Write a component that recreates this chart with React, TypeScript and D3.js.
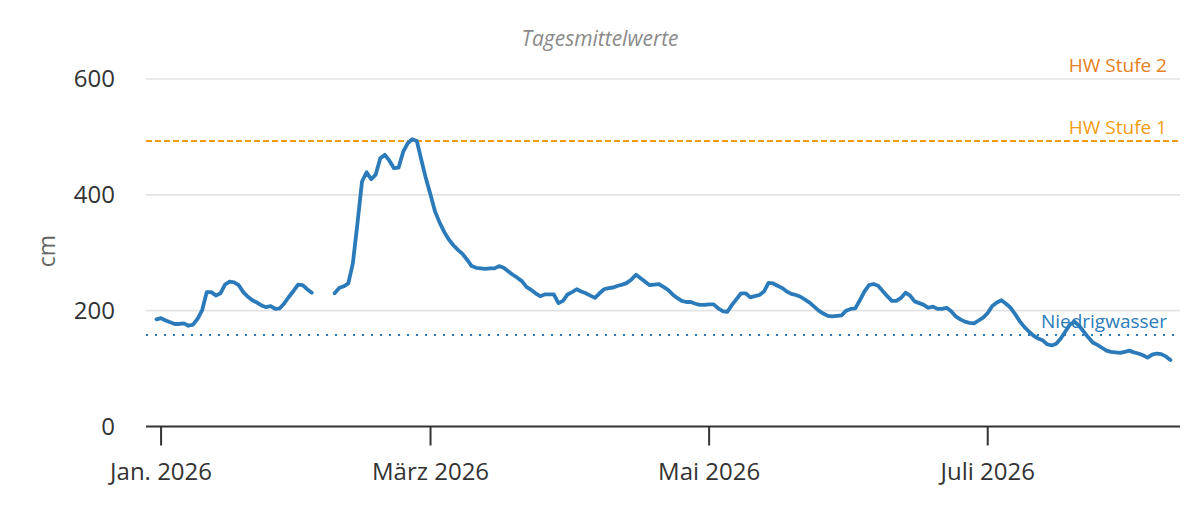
import * as d3 from "d3";

// Tagesmittelwerte Pegel (cm), Tage ab 1. Jan. 2026 (UTC), null = Datenlücke
const tage = [
  -1, 0, 1, 2, 3, 4, 5, 6, 7, 8, 9, 10, 11, 12, 13, 14, 15, 16, 17, 18, 19, 20,
  21, 22, 23, 24, 25, 26, 27, 28, 29, 30, 31, 32, 33, 34, 35, 36, 37, 38, 39, 40,
  41, 42, 43, 44, 45, 46, 47, 48, 49, 50, 51, 52, 53, 54, 55, 56, 57, 58, 59, 60,
  61, 62, 63, 64, 65, 66, 67, 68, 69, 70, 71, 72, 73, 74, 75, 76, 77, 78, 79, 80,
  81, 82, 83, 84, 85, 86, 87, 88, 89, 90, 91, 92, 93, 94, 95, 96, 97, 98, 99, 100,
  101, 102, 103, 104, 105, 106, 107, 108, 109, 110, 111, 112, 113, 114, 115, 116,
  117, 118, 119, 120, 121, 122, 123, 124, 125, 126, 127, 128, 129, 130, 131, 132,
  133, 134, 135, 136, 137, 138, 139, 140, 141, 142, 143, 144, 145, 146, 147, 148,
  149, 150, 151, 152, 153, 154, 155, 156, 157, 158, 159, 160, 161, 162, 163, 164,
  165, 166, 167, 168, 169, 170, 171, 172, 173, 174, 175, 176, 177, 178, 179, 180,
  181, 182, 183, 184, 185, 186, 187, 188, 189, 190, 191, 192, 193, 194, 195, 196,
  197, 198, 199, 200, 201, 202, 203, 204, 205, 206, 207, 208, 209, 210, 211, 212,
  213, 214, 215, 216, 217, 218, 219, 220, 221,
];

const pegel: (number | null)[] = [
  185, 187, 183, 180, 177, 177, 178, 174, 176, 186, 201, 232, 232, 226, 230, 245,
  250, 249, 244, 232, 224, 218, 214, 209, 206, 208, 203, 204, 213, 224, 234, 245,
  244, 237, 231, null, null, null, null, 230, 239, 242, 247, 282, 351, 423, 439,
  427, 435, 463, 469, 459, 446, 447, 474, 489, 496, 493, 460, 428, 400, 371, 352,
  336, 323, 313, 305, 298, 288, 277, 274, 273, 272, 273, 273, 277, 274, 268, 262,
  257, 251, 241, 236, 230, 225, 228, 228, 228, 213, 217, 228, 232, 237, 233, 230,
  226, 222, 230, 237, 239, 240, 243, 245, 248, 254, 262, 256, 250, 244, 245, 246,
  241, 236, 228, 222, 217, 215, 215, 212, 210, 210, 211, 211, 204, 199, 198, 210,
  220, 230, 230, 223, 225, 227, 233, 248, 247, 243, 239, 233, 229, 227, 224, 219,
  214, 207, 200, 195, 191, 190, 191, 192, 200, 203, 204, 218, 233, 244, 246, 243,
  234, 225, 217, 217, 222, 231, 226, 216, 213, 210, 205, 207, 203, 203, 205, 199,
  190, 185, 181, 179, 178, 183, 188, 196, 208, 214, 218, 212, 205, 194, 182, 172,
  164, 157, 152, 149, 142, 140, 143, 152, 164, 176, 181, 174, 164, 154, 145, 141,
  136, 131, 129, 128, 127, 129, 131, 128, 126, 123, 119, 124, 126, 125, 121, 115,
];

const yTicks = [0, 200, 400, 600];
const monatsNamen = ["Jan.", "Feb.", "März", "Apr.", "Mai", "Juni", "Juli", "Aug."];

const hwStufe1 = 493;
const hwStufe2 = 600; // liegt am oberen Rand der Achse, Linie nicht sichtbar
const niedrigwasser = 158;

const W = 1200;
const H = 520;
const left = 146;
const right = 1180;
const top = 79;
const bottom = 426.5;

const DAY = 864e5;
const jan1 = Date.UTC(2026, 0, 1);
const toDate = (t: number) => new Date(jan1 + t * DAY);

const FONT = "'Open Sans', 'Noto Sans', sans-serif";

export default function App() {
  const x = d3.scaleUtc().domain([toDate(-3.3), toDate(223.1)]).range([left, right]);
  const y = d3.scaleLinear().domain([0, 600]).range([bottom, top]);

  const punkte = tage.map((t, i) => ({ date: toDate(t), v: pegel[i] }));
  const line = d3
    .line<{ date: Date; v: number | null }>()
    .defined((d) => d.v !== null)
    .x((d) => x(d.date))
    .y((d) => y(d.v as number));

  const xTicks = d3.utcMonth.every(2)!.range(toDate(-3.3), toDate(223.1));

  return (
    <svg
      width={W}
      height={H}
      style={{ position: "absolute", left: 0, top: 0, background: "#fff" }}
      fontFamily={FONT}
    >
      <text x={600} y={46} textAnchor="middle" fontSize={21} fontStyle="italic" fill="#8a8a8a">
        Tagesmittelwerte
      </text>

      {/* Gitternetz */}
      {yTicks.filter((t) => t > 0).map((t) => (
        <line key={t} x1={left} x2={right} y1={y(t)} y2={y(t)} stroke="#e3e3e3" strokeWidth={1.6} />
      ))}

      {/* Schwellenwerte */}
      <line
        x1={left}
        x2={right}
        y1={y(hwStufe1)}
        y2={y(hwStufe1)}
        stroke="#f39c12"
        strokeWidth={2}
        strokeDasharray="6,3"
      />
      <line
        x1={left}
        x2={right}
        y1={y(niedrigwasser)}
        y2={y(niedrigwasser)}
        stroke="#2b7bba"
        strokeWidth={2}
        strokeDasharray="2,7"
      />
      <text x={1167} y={y(hwStufe2) - 7} textAnchor="end" fontSize={19} fill="#e67e22">
        HW Stufe 2
      </text>
      <text x={1167} y={y(hwStufe1) - 7} textAnchor="end" fontSize={19} fill="#f39c12">
        HW Stufe 1
      </text>
      <text x={1167} y={y(niedrigwasser) - 7} textAnchor="end" fontSize={19} fill="#2b7bba">
        Niedrigwasser
      </text>

      {/* Y-Achse */}
      {yTicks.map((t) => (
        <text key={t} x={115} y={y(t) + 8} textAnchor="end" fontSize={24} fill="#333">
          {t}
        </text>
      ))}
      <text
        transform={`translate(45.5,251) rotate(-90)`}
        textAnchor="middle"
        dominantBaseline="central"
        fontSize={23}
        fill="#666"
      >
        cm
      </text>

      {/* X-Achse */}
      <line x1={left} x2={right} y1={bottom} y2={bottom} stroke="#333" strokeWidth={2} />
      {xTicks.map((d) => (
        <g key={+d} transform={`translate(${x(d)},0)`}>
          <line y1={bottom} y2={bottom + 19} stroke="#333" strokeWidth={2} />
          <text y={480} textAnchor="middle" fontSize={24} fill="#333">
            {`${monatsNamen[d.getUTCMonth()]} ${d.getUTCFullYear()}`}
          </text>
        </g>
      ))}

      {/* Pegelverlauf */}
      <path
        d={line(punkte) ?? ""}
        fill="none"
        stroke="#2b7bba"
        strokeWidth={3.8}
        strokeLinejoin="round"
        strokeLinecap="round"
      />
    </svg>
  );
}
